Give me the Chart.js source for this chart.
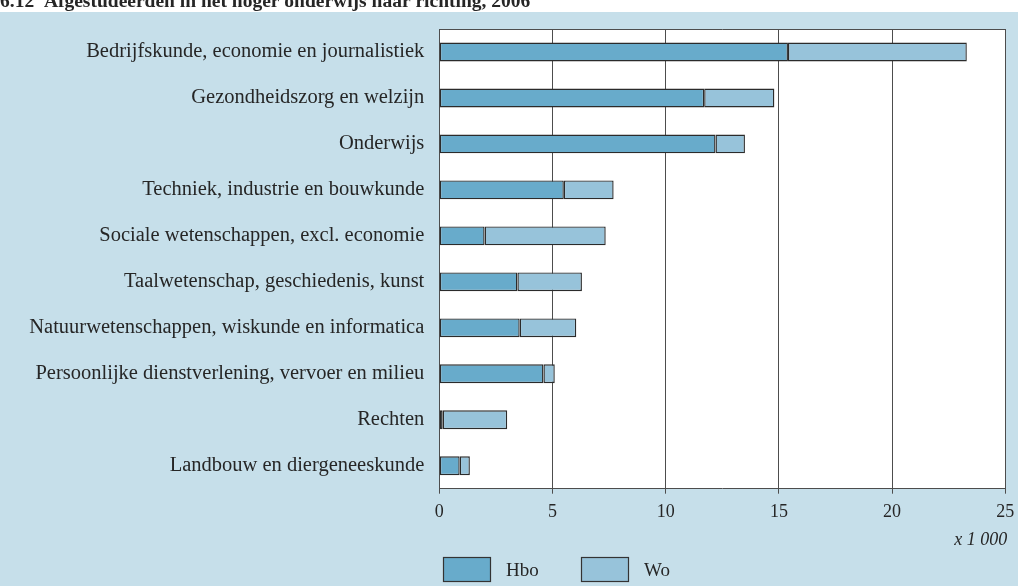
<!DOCTYPE html>
<html>
<head>
<meta charset="utf-8">
<script src="https://cdn.jsdelivr.net/npm/chart.js@4/dist/chart.umd.min.js"></script>
<style>
  html, body { margin: 0; padding: 0; background: #ffffff; }
  #wrap { width: 1018px; height: 586px; }
</style>
</head>
<body>
<div id="wrap"><canvas id="c" width="1018" height="586"></canvas></div>
<script>
// Afgestudeerden in het hoger onderwijs naar richting, 2006 (x 1 000)
const categories = [
  'Bedrijfskunde, economie en journalistiek',
  'Gezondheidszorg en welzijn',
  'Onderwijs',
  'Techniek, industrie en bouwkunde',
  'Sociale wetenschappen, excl. economie',
  'Taalwetenschap, geschiedenis, kunst',
  'Natuurwetenschappen, wiskunde en informatica',
  'Persoonlijke dienstverlening, vervoer en milieu',
  'Rechten',
  'Landbouw en diergeneeskunde'
];
const hbo = [15.4, 11.7, 12.2, 5.5, 2.0, 3.45, 3.55, 4.6, 0.15, 0.9];
const wo  = [7.9, 3.1, 1.3, 2.2, 5.35, 2.85, 2.5, 0.5, 2.85, 0.45];
const seriesNames = ['Hbo', 'Wo'];
const xTicks = [0, 5, 10, 15, 20, 25];
const titleText = '6.12  Afgestudeerden in het hoger onderwijs naar richting, 2006';
const unitText = 'x 1 000';

const FONT = '"Liberation Serif", "DejaVu Serif", serif';
const INK = '#262626';
const COL_HBO = '#68abcb';
const COL_WO = '#97c3da';
const PANEL = '#c6dfea';

// Background panel, white plot area, title, unit label and legend
const decor = {
  id: 'decor',
  beforeDraw(chart) {
    const ctx = chart.ctx, a = chart.chartArea;
    ctx.save();
    ctx.fillStyle = '#ffffff';
    ctx.fillRect(0, 0, chart.width, chart.height);
    ctx.fillStyle = PANEL;
    ctx.fillRect(0, 12, chart.width, chart.height - 12);
    ctx.fillStyle = '#ffffff';
    ctx.fillRect(a.left, a.top, a.right - a.left, a.bottom - a.top);
    ctx.fillStyle = INK;
    ctx.font = 'bold 19.5px ' + FONT;
    ctx.textBaseline = 'alphabetic';
    ctx.textAlign = 'left';
    ctx.fillText(titleText, 0, 7);
    ctx.restore();
  },
  afterDraw(chart) {
    const ctx = chart.ctx, a = chart.chartArea;
    ctx.save();
    // top frame line of the plot area
    ctx.strokeStyle = '#4d4d4d';
    ctx.lineWidth = 1;
    ctx.beginPath();
    ctx.moveTo(a.left, a.top + 0.5);
    ctx.lineTo(a.right, a.top + 0.5);
    ctx.stroke();
    // unit label
    ctx.fillStyle = INK;
    ctx.font = 'italic 18px ' + FONT;
    ctx.textAlign = 'right';
    ctx.textBaseline = 'middle';
    ctx.fillText(unitText, a.right + 2, 540);
    // legend
    ctx.textAlign = 'left';
    ctx.font = '19px ' + FONT;
    const slots = [443, 581];
    chart.data.datasets.forEach((ds, i) => {
      const x = slots[i];
      ctx.fillStyle = ds.backgroundColor;
      ctx.fillRect(x, 557, 47, 24);
      ctx.strokeStyle = '#333333';
      ctx.lineWidth = 1.2;
      ctx.strokeRect(x + 0.5, 557.5, 47, 24);
      ctx.fillStyle = INK;
      ctx.fillText(ds.label, x + 63, 571);
    });
    ctx.restore();
  }
};

new Chart(document.getElementById('c'), {
  type: 'bar',
  data: {
    labels: categories,
    datasets: [
      { label: seriesNames[0], data: hbo, backgroundColor: COL_HBO },
      { label: seriesNames[1], data: wo, backgroundColor: COL_WO }
    ]
  },
  options: {
    indexAxis: 'y',
    responsive: false,
    animation: false,
    devicePixelRatio: 1,
    layout: { padding: { top: 29, right: 12.7, left: 0, bottom: 0 } },
    datasets: {
      bar: {
        borderColor: '#2b2b2b',
        borderWidth: 1.4,
        borderSkipped: false,
        categoryPercentage: 1,
        barPercentage: 0.41
      }
    },
    plugins: {
      legend: { display: false },
      tooltip: { enabled: false },
      title: { display: false }
    },
    scales: {
      x: {
        stacked: true,
        min: 0,
        max: 25,
        afterFit(s) { s.height = 97.3; s.paddingLeft = 0; s.paddingRight = 0; },
        afterBuildTicks(s) { s.ticks = xTicks.map(v => ({ value: v })); },
        ticks: {
          color: INK,
          font: { family: FONT, size: 18 },
          padding: 8
        },
        grid: {
          color: '#4d4d4d',
          lineWidth: 1,
          tickLength: 5,
          drawOnChartArea: true
        },
        border: { display: true, color: '#4d4d4d', width: 1 }
      },
      y: {
        stacked: true,
        afterFit(s) { s.width = 439.3; s.paddingTop = 0; s.paddingBottom = 0; },
        ticks: {
          color: INK,
          font: { family: FONT, size: 20.5 },
          padding: 15,
          autoSkip: false
        },
        grid: { display: false, drawTicks: false },
        border: { display: true, color: '#4d4d4d', width: 1 }
      }
    }
  },
  plugins: [decor]
});
</script>
</body>
</html>
